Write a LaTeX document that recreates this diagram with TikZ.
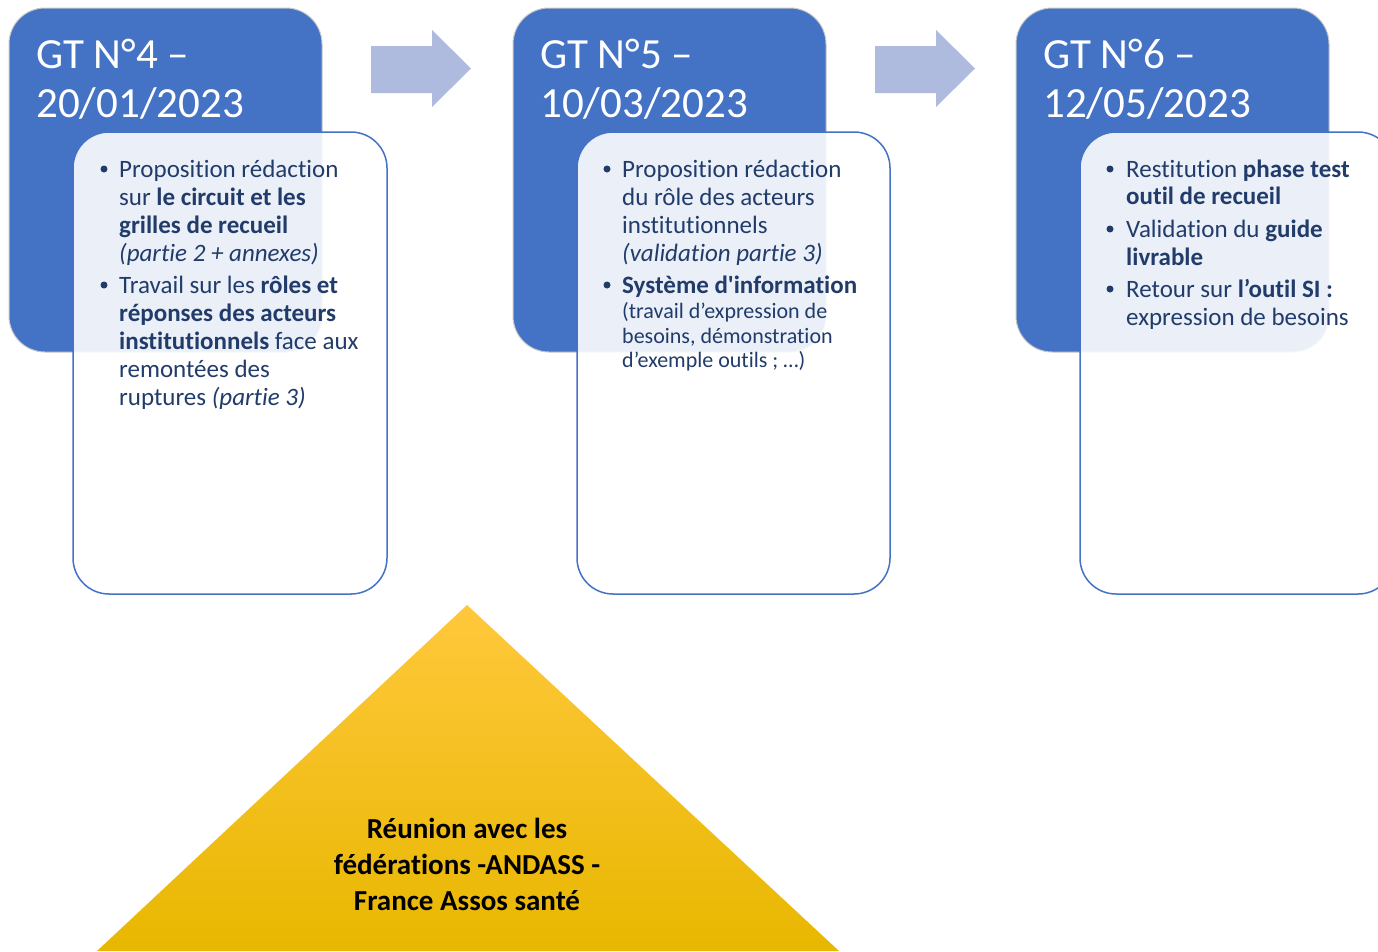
\documentclass[tikz,border=0pt]{standalone}
\usepackage{fontspec}
\setmainfont[Ligatures={NoCommon,TeXOff}]{Carlito}
\definecolor{gtblue}{RGB}{68,114,196}
\definecolor{txt}{RGB}{33,60,106}
\definecolor{arrowc}{RGB}{174,187,222}
\definecolor{triTop}{RGB}{255,200,60}
\definecolor{triMid}{RGB}{255,192,0}
\definecolor{triBot}{RGB}{232,183,0}
\tikzset{
  bluebox/.style={fill=gtblue, draw=black!22, line width=1pt, rounded corners=36pt},
  whitebox/.style={fill=white, fill opacity=0.89, draw=gtblue, line width=1.5pt, rounded corners=36pt},
  titletext/.style={anchor=base west, inner sep=0pt, text=white, font=\fontsize{43}{50}\selectfont},
  bodytext/.style={anchor=base west, inner sep=0pt, text=txt, font=\fontsize{25}{28}\selectfont},
  smalltext/.style={anchor=base west, inner sep=0pt, text=txt, font=\fontsize{22}{25}\selectfont},
  bulletdot/.style={fill=txt, circle, inner sep=0pt, minimum size=7pt},
  blockarrow/.style={fill=arrowc, draw=none},
  tritext/.style={anchor=base, inner sep=0pt, text=black, font=\bfseries\fontsize{29}{36}\selectfont},
}
\begin{document}
\begin{tikzpicture}[x=1pt,y=-1pt]
\useasboundingbox (0,0) rectangle (1378,951);
\clip (0,0) rectangle (1378,951);

% arrows
\fill[blockarrow] (371,46) -- (432,46) -- (432,30) -- (471,68.5) -- (432,107) -- (432,93) -- (371,93) -- cycle;
\fill[blockarrow] (875,46) -- (936,46) -- (936,30) -- (975,68.5) -- (936,107) -- (936,93) -- (875,93) -- cycle;

% panel 1
\draw[bluebox] (9,8) rectangle (322,352);
\node[titletext] (g4a) at (36,68) {GT N°4 –};
\node[titletext] (g4b) at (36,117) {20/01/2023};
\draw[whitebox] (73,132) rectangle (387,594);
\node[bulletdot] (b4a) at (104,169) {};
\node[bodytext] (l4a) at (119,177) {Proposition rédaction};
\node[bodytext] (l4b) at (119,205) {sur \textbf{le circuit et les}};
\node[bodytext] (l4c) at (119,233) {\textbf{grilles de recueil}};
\node[bodytext] (l4d) at (119,261) {\textit{(partie 2 + annexes)}};
\node[bulletdot] (b4b) at (104,285) {};
\node[bodytext] (l4e) at (119,293) {Travail sur les \textbf{rôles et}};
\node[bodytext] (l4f) at (119,321) {\textbf{réponses des acteurs}};
\node[bodytext] (l4g) at (119,349) {\textbf{institutionnels} face aux};
\node[bodytext] (l4h) at (119,377) {remontées des};
\node[bodytext] (l4i) at (119,405) {ruptures \textit{(partie 3)}};

% panel 2
\draw[bluebox] (513,8) rectangle (826,352);
\node[titletext] (g5a) at (540,68) {GT N°5 –};
\node[titletext] (g5b) at (540,117) {10/03/2023};
\draw[whitebox] (577,132) rectangle (890,594);
\node[bulletdot] (b5a) at (607,169) {};
\node[bodytext] (l5a) at (622,177) {Proposition rédaction};
\node[bodytext] (l5b) at (622,205) {du rôle des acteurs};
\node[bodytext] (l5c) at (622,233) {institutionnels};
\node[bodytext] (l5d) at (622,261) {\textit{(validation partie 3)}};
\node[bulletdot] (b5b) at (607,285) {};
\node[bodytext] (l5e) at (622,293) {\textbf{Système d'information}};
\node[smalltext] (l5f) at (622,318) {(travail d’expression de};
\node[smalltext] (l5g) at (622,343) {besoins, démonstration};
\node[smalltext] (l5h) at (622,367) {d’exemple outils ; …)};

% panel 3
\draw[bluebox] (1016,8) rectangle (1329,352);
\node[titletext] (g6a) at (1043,68) {GT N°6 –};
\node[titletext] (g6b) at (1043,117) {12/05/2023};
\draw[whitebox] (1080,132) rectangle (1394,594);
\node[bulletdot] (b6a) at (1110,169) {};
\node[bodytext] (l6a) at (1126,177) {Restitution \textbf{phase test}};
\node[bodytext] (l6b) at (1126,204) {\textbf{outil de recueil}};
\node[bulletdot] (b6b) at (1110,229) {};
\node[bodytext] (l6c) at (1126,237) {Validation du \textbf{guide}};
\node[bodytext] (l6d) at (1126,265) {\textbf{livrable}};
\node[bulletdot] (b6c) at (1110,289) {};
\node[bodytext] (l6e) at (1126,297) {Retour sur \textbf{l’outil SI :}};
\node[bodytext] (l6f) at (1126,325) {expression de besoins};

% triangle
\shade[top color=triTop, middle color=triMid, bottom color=triBot] (467,605) -- (97,951) -- (839,951) -- cycle;
\node[tritext] (r1) at (467,838) {Réunion avec les};
\node[tritext] (r2) at (467,874) {fédérations -ANDASS -};
\node[tritext] (r3) at (467,910) {France Assos santé};
\end{tikzpicture}
\end{document}
